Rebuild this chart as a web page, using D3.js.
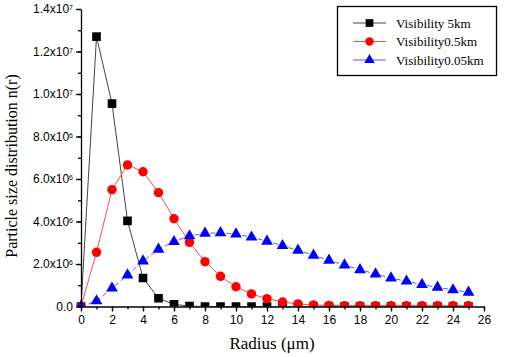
<!DOCTYPE html>
<html>
<head>
<meta charset="utf-8">
<script src="https://d3js.org/d3.v7.min.js"></script>
<style>
  body { margin: 0; background: #fff; }
</style>
</head>
<body>
<div id="chart"></div>
<script>
const radius = d3.range(0, 26);
const vis5km = [0, 12.7e6, 9.55e6, 4.03e6, 1.34e6, 0.39e6, 0.1e6, 0.02e6, 0, 0, 0, 0, 0, 0,
  0, 0, 0, 0, 0, 0, 0, 0, 0, 0, 0, 0];
const vis05km = [0, 2.55e6, 5.5e6, 6.66e6, 6.34e6, 5.36e6, 4.13e6, 3.02e6, 2.11e6, 1.42e6, 0.93e6, 0.59e6, 0.37e6, 0.21e6,
  0.12e6, 0.07e6, 0.05e6, 0.04e6, 0.04e6, 0.04e6, 0.04e6, 0.04e6, 0.04e6, 0.04e6, 0.04e6, 0.04e6];
const vis005km = [0, 0.26e6, 0.86e6, 1.48e6, 2.14e6, 2.69e6, 3.05e6, 3.32e6, 3.44e6, 3.47e6, 3.41e6, 3.26e6, 3.07e6, 2.86e6,
  2.64e6, 2.41e6, 2.17e6, 1.95e6, 1.73e6, 1.53e6, 1.34e6, 1.19e6, 1.03e6, 0.9e6, 0.78e6, 0.67e6];
const seriesNames = ["Visibility 5km", "Visibility0.5km", "Visibility0.05km"];
const yTickLabels = [["0.0", ""], ["2.0x10", "6"], ["4.0x10", "6"], ["6.0x10", "6"], ["8.0x10", "6"],
  ["1.0x10", "7"], ["1.2x10", "7"], ["1.4x10", "7"]];

const serif = "'Liberation Serif', 'DejaVu Serif', serif";
const sans = "'Liberation Sans', Arial, sans-serif";

const width = 512, height = 357;
const svg = d3.select("#chart").append("svg").attr("width", width).attr("height", height);

const x = d3.scaleLinear().domain([0, 26]).range([81, 484]);
const y = d3.scaleLinear().domain([0, 1.4e7]).range([306.5, 9]);

svg.append("clipPath").attr("id", "plot")
  .append("rect").attr("x", 70).attr("y", 0).attr("width", 430).attr("height", 306.5);

// lines and markers
const series = [
  { vals: vis5km, line: "#444", fill: "#000", dash: null, mark: "square" },
  { vals: vis05km, line: "#ff4a4a", fill: "#ff0000", dash: null, mark: "circle" },
  { vals: vis005km, line: "#5a5aff", fill: "#0000ff", dash: "5,3", mark: "triangle" }
];
const symbols = { square: d3.symbolSquare, circle: d3.symbolCircle, triangle: d3.symbolTriangle };
const sizes = { square: 75, circle: 70, triangle: 60 };

const plot = svg.append("g").attr("clip-path", "url(#plot)");
const line = d3.line().x((d, i) => x(radius[i])).y(d => y(d));
series.forEach(s => {
  plot.append("path").datum(s.vals).attr("fill", "none").attr("stroke", s.line)
    .attr("stroke-width", 1).attr("stroke-dasharray", s.dash).attr("d", line);
});
series.forEach(s => {
  plot.append("g").selectAll("path").data(s.vals).join("path")
    .attr("transform", (d, i) => `translate(${x(radius[i])},${y(d)})`)
    .attr("d", d3.symbol().type(symbols[s.mark]).size(sizes[s.mark]))
    .attr("fill", s.fill);
});

// minor ticks
svg.append("g").attr("transform", "translate(0,306.5)")
  .call(d3.axisBottom(x).ticks(26).tickSize(3).tickFormat(""))
  .call(g => g.select(".domain").remove());
svg.append("g").attr("transform", "translate(81,0)")
  .call(d3.axisLeft(y).tickValues(d3.range(0, 1.4e7 + 1, 1e6)).tickSize(3).tickFormat(""))
  .call(g => g.select(".domain").remove());

// major axes
const xAxis = svg.append("g").attr("transform", "translate(0,306.5)")
  .call(d3.axisBottom(x).tickValues(d3.range(0, 27, 2)).tickSize(5).tickPadding(4).tickSizeOuter(0));
xAxis.selectAll("text").style("font-family", sans).attr("font-size", 12).attr("fill", "#000");
const yAxis = svg.append("g").attr("transform", "translate(81,0)")
  .call(d3.axisLeft(y).tickValues(d3.range(0, 1.4e7 + 1, 2e6)).tickSize(5).tickPadding(4).tickSizeOuter(0)
    .tickFormat(""));
yAxis.selectAll(".tick").each(function(d, i) {
  const t = d3.select(this).append("text").attr("x", -8).attr("dy", "0.32em")
    .attr("text-anchor", "end").attr("fill", "#000")
    .style("font-family", sans).attr("font-size", 12);
  t.append("tspan").text(yTickLabels[i][0]);
  if (yTickLabels[i][1]) t.append("tspan").attr("dy", "-0.45em").attr("font-size", "7px").text(yTickLabels[i][1]);
});
svg.selectAll(".domain, .tick line").attr("stroke", "#000").attr("stroke-width", 1.3);

// axis titles
svg.append("text").style("font-family", serif).attr("x", 272).attr("y", 349).attr("text-anchor", "middle")
  .attr("font-size", 17).text("Radius (\u03bcm)");
svg.append("text").style("font-family", serif).attr("transform", "translate(17,166) rotate(-90)")
  .attr("text-anchor", "middle").attr("font-size", 16).text("Particle size distribution n(r)");

// legend
const lg = svg.append("g");
lg.append("rect").attr("x", 337.5).attr("y", 6.5).attr("width", 159).attr("height", 69)
  .attr("fill", "#fff").attr("stroke", "#000").attr("stroke-width", 1.3);
series.forEach((s, i) => {
  const ly = 23 + i * 18.5;
  lg.append("line").attr("x1", 353).attr("x2", 386).attr("y1", ly).attr("y2", ly)
    .attr("stroke", s.line).attr("stroke-width", 1);
  lg.append("path").attr("transform", `translate(369.5,${ly})`)
    .attr("d", d3.symbol().type(symbols[s.mark]).size(sizes[s.mark] * 0.8)).attr("fill", s.fill);
  lg.append("text").style("font-family", serif).attr("x", 396).attr("y", ly).attr("dy", "0.35em")
    .attr("font-size", 13).text(seriesNames[i]);
});
</script>
</body>
</html>
